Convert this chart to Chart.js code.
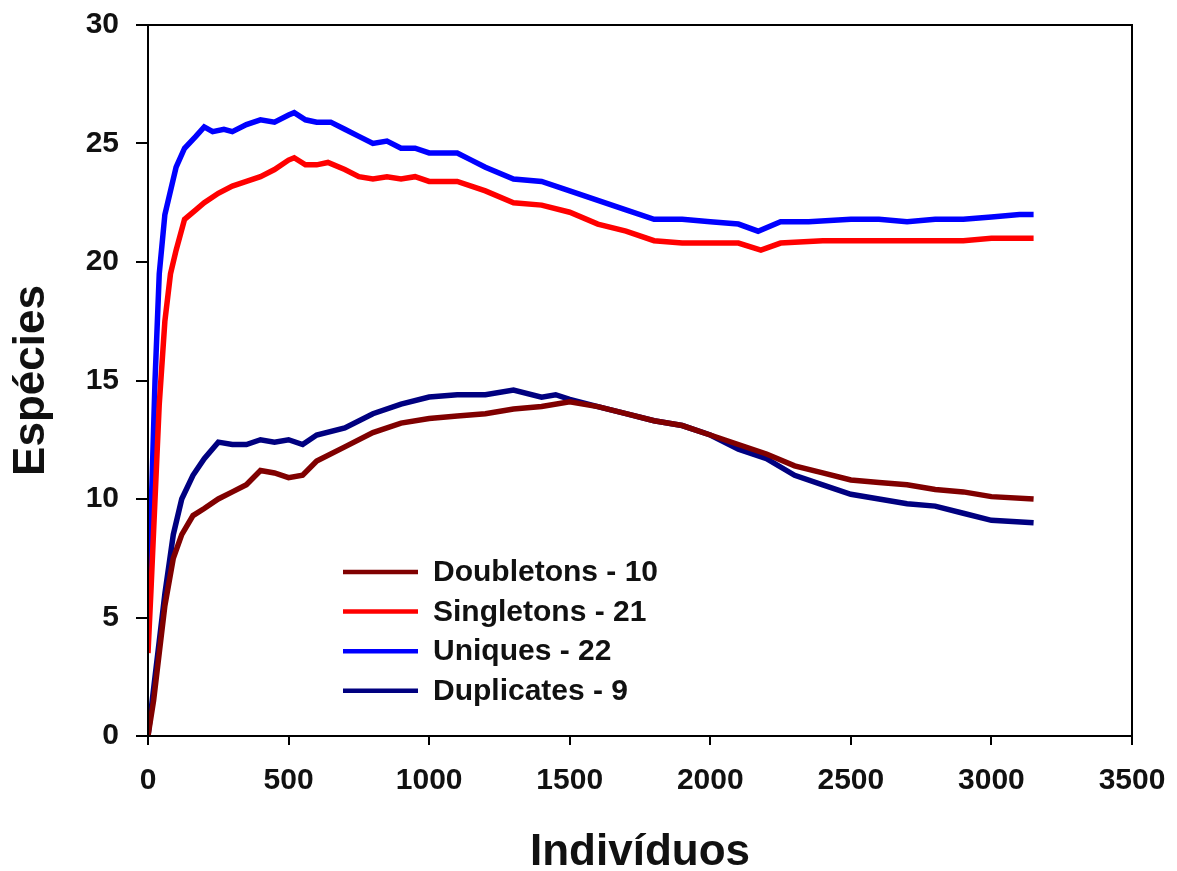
<!DOCTYPE html>
<html>
<head>
<meta charset="utf-8">
<script src="https://cdn.jsdelivr.net/npm/chart.js@4"></script>
<style>
  body { margin: 0; background: #fff; }
  #wrap { width: 1177px; height: 871px; }
</style>
</head>
<body>
<div id="wrap"><canvas id="myLine"></canvas></div>
<script>
var doubletonsX = [0,20,40,60,90,120,160,200,250,300,350,400,450,500,550,600,700,800,900,1000,1100,1200,1300,1400,1500,1600,1700,1800,1900,2000,2100,2200,2300,2400,2500,2600,2700,2800,2900,3000,3150];
var doubletonsY = [0,1.5,3.5,5.5,7.5,8.5,9.3,9.6,10.0,10.3,10.6,11.2,11.1,10.9,11.0,11.6,12.2,12.8,13.2,13.4,13.5,13.6,13.8,13.9,14.1,13.9,13.6,13.3,13.1,12.7,12.3,11.9,11.4,11.1,10.8,10.7,10.6,10.4,10.3,10.1,10.0];

var singletonsX = [0,10,25,40,60,80,100,130,170,200,250,300,350,400,450,500,520,560,600,640,700,750,800,850,900,950,1000,1100,1200,1300,1400,1500,1600,1700,1800,1900,2000,2100,2180,2250,2400,2500,2700,2900,3000,3150];
var singletonsY = [3.5,6,10,14,17.5,19.5,20.5,21.8,22.2,22.5,22.9,23.2,23.4,23.6,23.9,24.3,24.4,24.1,24.1,24.2,23.9,23.6,23.5,23.6,23.5,23.6,23.4,23.4,23.0,22.5,22.4,22.1,21.6,21.3,20.9,20.8,20.8,20.8,20.5,20.8,20.9,20.9,20.9,20.9,21.0,21.0];

var uniquesX = [0,10,25,40,60,80,100,130,170,200,230,270,300,350,400,450,500,520,560,600,650,700,750,800,850,900,950,1000,1100,1150,1200,1300,1400,1500,1600,1700,1800,1900,2000,2100,2170,2250,2350,2500,2600,2700,2800,2900,3000,3100,3150];
var uniquesY = [5,9,15,19.5,22,23,24,24.8,25.3,25.7,25.5,25.6,25.5,25.8,26.0,25.9,26.2,26.3,26.0,25.9,25.9,25.6,25.3,25.0,25.1,24.8,24.8,24.6,24.6,24.3,24.0,23.5,23.4,23.0,22.6,22.2,21.8,21.8,21.7,21.6,21.3,21.7,21.7,21.8,21.8,21.7,21.8,21.8,21.9,22.0,22.0];

var duplicatesX = [0,20,40,60,90,120,160,200,250,300,350,400,450,500,550,600,700,800,900,1000,1100,1200,1300,1400,1450,1500,1600,1700,1800,1900,2000,2100,2200,2300,2400,2500,2600,2700,2800,2900,3000,3150];
var duplicatesY = [0,2,4,6,8.5,10,11,11.7,12.4,12.3,12.3,12.5,12.4,12.5,12.3,12.7,13.0,13.6,14.0,14.3,14.4,14.4,14.6,14.3,14.4,14.2,13.9,13.6,13.3,13.1,12.7,12.1,11.7,11.0,10.6,10.2,10.0,9.8,9.7,9.4,9.1,9.0];

var seriesLabels = ["Doubletons - 10","Singletons - 21","Uniques - 22","Duplicates - 9"];
var seriesColors = ["#800000","#ff0000","#0000ff","#000080"];

var fontFam = '"Liberation Sans", Arial, sans-serif';

function pts(xs, ys) {
  return xs.map(function (x, i) { return {x: x, y: ys[i]}; });
}

var lineData = [pts(doubletonsX, doubletonsY), pts(singletonsX, singletonsY), pts(uniquesX, uniquesY), pts(duplicatesX, duplicatesY)];

// frame + legend inside the plot
var framePlugin = {
  id: 'frame',
  afterDraw: function (chart) {
    var c = chart.ctx, a = chart.chartArea;
    c.save();
    c.strokeStyle = '#000';
    c.lineWidth = 2;
    c.strokeRect(a.left, a.top, a.right - a.left, a.bottom - a.top);
    c.font = 'bold 30px ' + fontFam;
    c.textBaseline = 'middle';
    c.fillStyle = '#111';
    for (var i = 0; i < seriesLabels.length; i++) {
      var y = 572 + i * 39.6;
      c.strokeStyle = seriesColors[i];
      c.lineWidth = 4.5;
      c.beginPath();
      c.moveTo(343, y);
      c.lineTo(418, y);
      c.stroke();
      c.fillText(seriesLabels[i], 433, y + 1);
    }
    c.restore();
  }
};

var ctx = document.getElementById('myLine');
var lineChart = new Chart(ctx, {
  type: 'line',
  data: {
    datasets: seriesLabels.map(function (l, i) {
      return {
        label: l,
        data: lineData[i],
        borderColor: seriesColors[i],
        backgroundColor: seriesColors[i],
        borderWidth: 5.5,
        pointRadius: 0,
        fill: false,
        tension: 0
      };
    })
  },
  options: {
    responsive: true,
    maintainAspectRatio: false,
    animation: false,
    layout: { padding: { left: 0, right: 45, top: 25, bottom: 0 } },
    plugins: { legend: { display: false }, tooltip: { enabled: false } },
    scales: {
      x: {
        type: 'linear',
        min: 0, max: 3500,
        ticks: { stepSize: 500, color: '#111', padding: 18, callback: function (v) { return String(v); }, font: { size: 30, weight: 'bold', family: fontFam } },
        grid: { drawOnChartArea: false, tickLength: 9, color: '#000', lineWidth: 2 },
        border: { color: '#000', width: 2 },
        title: { display: true, text: 'Indivíduos', color: '#111', padding: { top: 0, bottom: -4 }, font: { size: 44, weight: 'bold', family: fontFam, lineHeight: 1.0 } },
        afterFit: function (s) { s.height = 135; s.paddingLeft = 0; s.paddingRight = 0; }
      },
      y: {
        min: 0, max: 30,
        ticks: { stepSize: 5, color: '#111', padding: 17, font: { size: 30, weight: 'bold', family: fontFam } },
        grid: { drawOnChartArea: false, tickLength: 12, color: '#000', lineWidth: 2 },
        border: { color: '#000', width: 2 },
        title: { display: true, text: 'Espécies', color: '#111', padding: { top: 10, bottom: 0 }, font: { size: 44, weight: 'bold', family: fontFam, lineHeight: 1.0 } },
        afterFit: function (s) { s.width = 148; s.paddingTop = 0; s.paddingBottom = 0; }
      }
    }
  },
  plugins: [framePlugin]
});
</script>
</body>
</html>
